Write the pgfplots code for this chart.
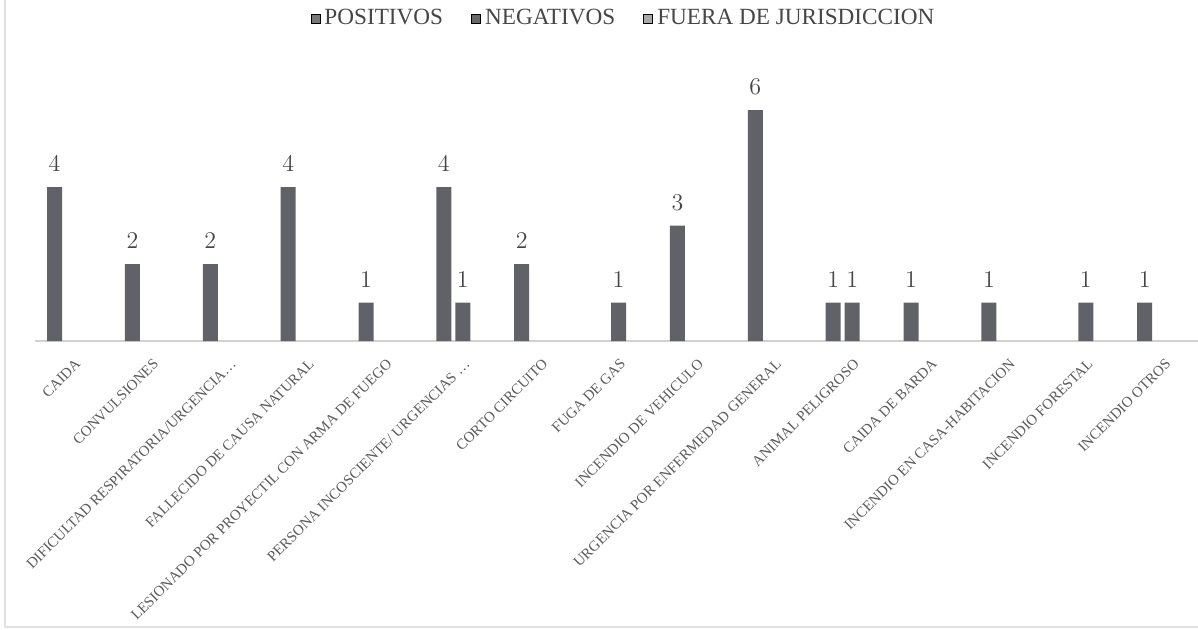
\documentclass[border=0pt]{standalone}
\usepackage{pgfplots}
\pgfplotsset{compat=1.18}
\usepackage{fontspec}
\setmainfont{Liberation Serif}
\definecolor{barc}{RGB}{96,98,103}
\definecolor{legpos}{RGB}{120,120,122}
\definecolor{legneg}{RGB}{104,104,106}
\definecolor{legfue}{RGB}{168,168,168}
\definecolor{txtdark}{RGB}{70,70,70}
\definecolor{txtlight}{RGB}{90,90,90}
\definecolor{framec}{RGB}{225,225,225}
\begin{document}
\begin{tikzpicture}
\useasboundingbox (0,0) rectangle (599pt,314.5pt);
\draw[framec, line width=0.8pt] (2.5pt,314.5pt) -- (2.5pt,1pt) -- (599pt,1pt);
\begin{axis}[
  at={(17.3pt,144pt)}, anchor=south west,
  scale only axis, width=584pt, height=134.75pt,
  xmin=-0.5, xmax=14.5, ymin=0, ymax=7,
  axis x line=bottom, axis y line=none,
  x axis line style={-, draw=black!18, line width=0.8pt},
  ytick=\empty,
  xtick={0,...,14},
  major tick length=0pt,
  xticklabels={CAIDA,CONVULSIONES,DIFICULTAD RESPIRATORIA/URGENCIA…,FALLECIDO DE CAUSA NATURAL,LESIONADO POR PROYECTIL CON ARMA DE FUEGO,PERSONA INCOSCIENTE/ URGENCIAS …,CORTO CIRCUITO,FUGA DE GAS,INCENDIO DE VEHICULO,URGENCIA POR ENFERMEDAD GENERAL,ANIMAL PELIGROSO,CAIDA DE BARDA,INCENDIO EN CASA-HABITACION,INCENDIO FORESTAL,INCENDIO OTROS},
  xticklabel style={xshift=3pt, yshift=-9.5pt, font=\fontsize{7.4}{8}\selectfont, text=txtlight, rotate=45, anchor=east, inner sep=1pt},
  ybar, bar width=7.5pt,
  nodes near coords,
  every node near coord/.append style={font=\fontsize{11.5}{12}\selectfont, text=txtdark, yshift=4pt},
  legend columns=3,
  legend style={at={(rel axis cs:0.505,1)}, anchor=center, yshift=26.5pt, draw=none, fill=none,
    font=\fontsize{11.6}{13}\selectfont, text=txtdark,
    /tikz/every even column/.append style={column sep=12pt}},
  legend image code/.code={\fill[#1] (0pt,-2.3pt) rectangle (4.6pt,2.3pt);},
  clip=false,
]
% POSITIVOS
\addplot[fill=barc, draw=none, bar shift=-9.5pt, forget plot] coordinates {
 (0,4) (1,2) (2,2) (3,4) (4,1) (5,4) (6,2) (8,3) (9,6) (10,1) (11,1) (12,1) (14,1)};
% NEGATIVOS
\addplot[fill=barc, draw=none, bar shift=0pt, forget plot] coordinates {
 (5,1) (7,1) (10,1) (13,1)};
% FUERA DE JURISDICCION: no bars
\addlegendimage{fill=legpos}
\addlegendentry{POSITIVOS}
\addlegendimage{fill=legneg}
\addlegendentry{NEGATIVOS}
\addlegendimage{fill=legfue}
\addlegendentry{FUERA DE JURISDICCION}
\end{axis}
\end{tikzpicture}
\end{document}
